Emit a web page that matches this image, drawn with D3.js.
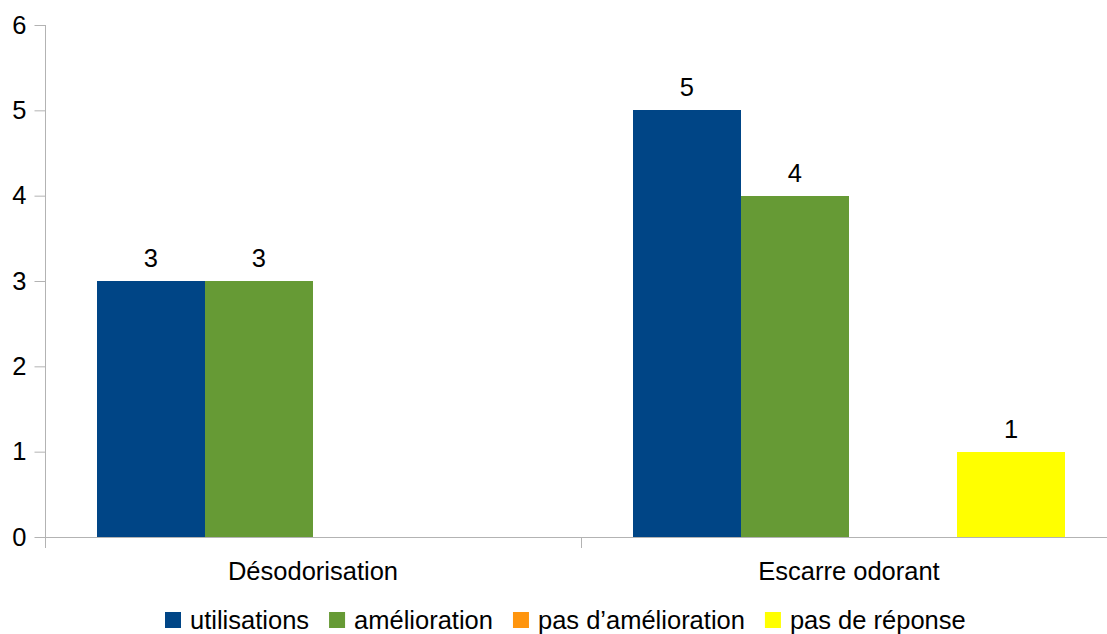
<!DOCTYPE html>
<html>
<head>
<meta charset="utf-8">
<script src="https://cdn.jsdelivr.net/npm/d3@7"></script>
<style>
  html, body { margin: 0; padding: 0; background: #fff; }
  svg { display: block; font-family: "Liberation Sans", Arial, sans-serif; }
</style>
</head>
<body>
<svg id="chart" width="1107" height="634"></svg>
<script>
const categories = ["Désodorisation", "Escarre odorant"];
const seriesNames = ["utilisations", "amélioration", "pas d’amélioration", "pas de réponse"];
const seriesColors = ["#004586", "#669a35", "#ff950e", "#ffff00"];
// values per series, one entry per category (null = no bar)
const utilisations = [3, 5];
const amelioration = [3, 4];
const pasAmelioration = [null, 0];
const pasDeReponse = [null, 1];
const yTicks = [0, 1, 2, 3, 4, 5, 6];

const seriesValues = [utilisations, amelioration, pasAmelioration, pasDeReponse];

const svg = d3.select("#chart");
const margin = { left: 45, top: 25, right: -10, bottom: 97 };
const W = 1107, H = 634;
const x0 = margin.left, x1 = W - margin.right;
const y0 = margin.top, y1 = H - margin.bottom;
const fontSize = 25.5;

const x = d3.scaleBand().domain(categories).range([x0, x1]).paddingInner(0).paddingOuter(0);
const xs = d3.scaleBand().domain(d3.range(seriesNames.length))
  .range([0, x.bandwidth()]).paddingInner(0).paddingOuter(0.48);
const y = d3.scaleLinear().domain([0, 6]).range([y1, y0]);

const axisColor = "#b3b3b3";

// bars
seriesValues.forEach((vals, si) => {
  svg.append("g").selectAll("rect")
    .data(categories.map((c, ci) => ({ c, v: vals[ci] })).filter(d => d.v !== null && d.v > 0))
    .join("rect")
    .attr("x", d => x(d.c) + xs(si))
    .attr("width", xs.bandwidth())
    .attr("y", d => y(d.v))
    .attr("height", d => y(0) - y(d.v))
    .attr("fill", seriesColors[si])
    .attr("shape-rendering", "crispEdges");
});

// y axis
const yAxis = svg.append("g").attr("transform", `translate(${x0 + 0.5},0)`)
  .call(d3.axisLeft(y).tickValues(yTicks).tickSize(11).tickPadding(8).tickFormat(d3.format("d")));
yAxis.select(".domain").remove();
yAxis.selectAll(".tick line").attr("stroke", axisColor);
yAxis.selectAll(".tick text").attr("font-size", fontSize).attr("fill", "#000")
  .attr("font-family", "Liberation Sans, Arial, sans-serif");
svg.append("line").attr("x1", x0 + 0.5).attr("x2", x0 + 0.5)
  .attr("y1", y0).attr("y2", y1 + 11).attr("stroke", axisColor);

// x axis
svg.append("line").attr("x1", x0).attr("x2", x1)
  .attr("y1", y(0) + 0.5).attr("y2", y(0) + 0.5).attr("stroke", axisColor);
svg.append("g").selectAll("line")
  .data(categories.slice(1))
  .join("line")
  .attr("x1", d => x(d) + 0.5).attr("x2", d => x(d) + 0.5)
  .attr("y1", y(0)).attr("y2", y(0) + 11)
  .attr("stroke", axisColor);
svg.append("g").selectAll("text")
  .data(categories)
  .join("text")
  .attr("x", d => x(d) + x.bandwidth() / 2)
  .attr("y", y1 + 43)
  .attr("text-anchor", "middle")
  .attr("font-size", fontSize)
  .text(d => d);

// value labels
seriesValues.forEach((vals, si) => {
  svg.append("g").selectAll("text")
    .data(categories.map((c, ci) => ({ c, v: vals[ci] })).filter(d => d.v !== null && d.v > 0))
    .join("text")
    .attr("x", d => x(d.c) + xs(si) + xs.bandwidth() / 2)
    .attr("y", d => y(d.v) - 14)
    .attr("text-anchor", "middle")
    .attr("font-size", fontSize)
    .text(d => d.v);
});

// legend
const legend = svg.append("g");
let lx = 165;
seriesNames.forEach((name, i) => {
  legend.append("rect").attr("x", lx).attr("y", 612).attr("width", 16).attr("height", 16)
    .attr("fill", seriesColors[i]);
  const t = legend.append("text").attr("x", lx + 25).attr("y", 629)
    .attr("font-size", fontSize).text(name);
  lx += 25 + t.node().getComputedTextLength() + 20;
});
</script>
</body>
</html>
